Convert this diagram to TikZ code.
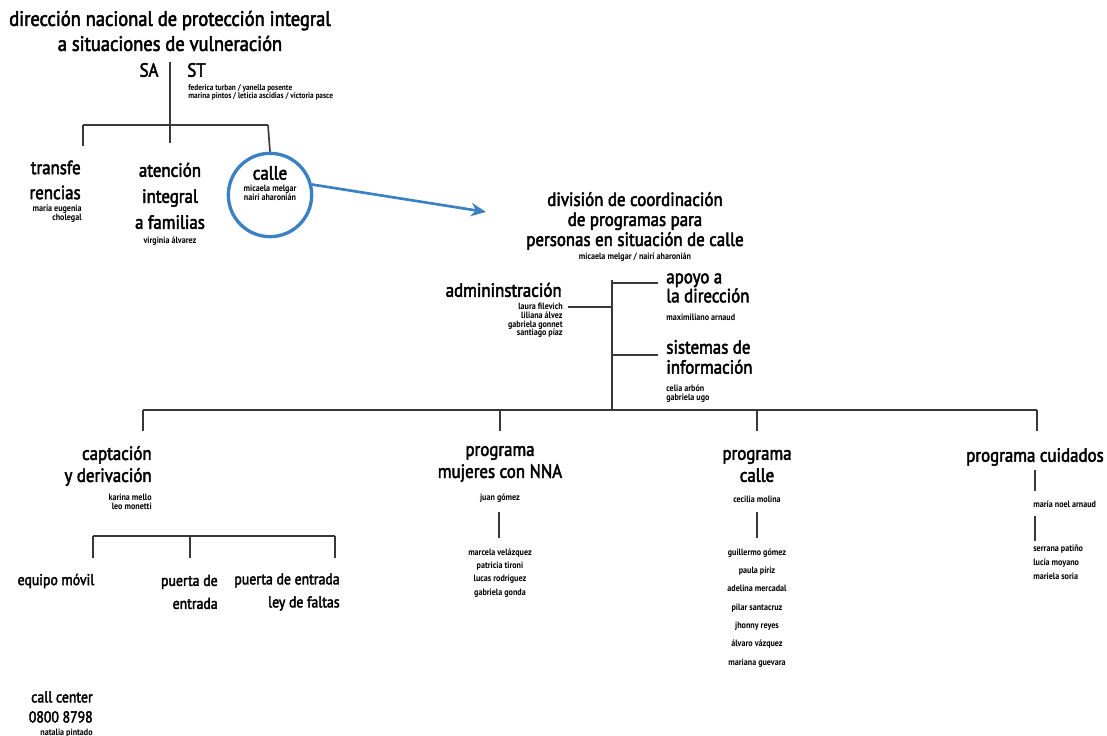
\documentclass[tikz,border=0pt]{standalone}
\usepackage{fontspec}
\setmainfont{PT Sans}
\newfontfamily\semifont{PT Sans}[FakeStretch=0.88,FakeBold=2.5]
\newfontfamily\nomfont{PT Sans Bold}[FakeStretch=0.88]
\usetikzlibrary{positioning,arrows.meta}
\tikzset{>=stealth}
\definecolor{lineas}{gray}{0.22}
\definecolor{azul}{RGB}{60,128,196}
\tikzset{
  titulo/.style={font=\semifont\fontsize{11.5}{15}\selectfont, align=center, inner sep=0pt},
  nombres/.style={font=\nomfont\fontsize{5.5}{5.2}\selectfont, inner sep=0pt},
  linea/.style={line width=1pt, draw=lineas},
}
\begin{document}
\begin{tikzpicture}[x=0.6pt,y=-0.6pt]
\useasboundingbox (0,0) rectangle (1107,736);
% direccion nacional
\node[titulo,font=\semifont\fontsize{12.6}{15}\selectfont] (dir) at (170,31) {dirección nacional de protección integral\\a situaciones de vulneración};
\node[titulo] (sa) at (149,70) {SA};
\node[titulo,anchor=west] (st) at (187,70) {ST};
\node[nombres,anchor=north west,align=left,font=\nomfont\fontsize{5}{4.8}\selectfont] (stn) at (188,84) {federica turban / yanella posente\\marina pintos / leticia ascidias / victoria pasce};
\coordinate (sast) at (170,62);
\coordinate (j0) at (170,125);
\coordinate (j1) at (83,125);
\coordinate (j2) at (268,125);
\draw[linea] (sast) -- (j0);
\draw[linea] (j1) -- (j2);
%%%%%%%%%%%%
\node[titulo,anchor=east,align=right] (transf) at (81,180) {transfe\\rencias};
\node[nombres,anchor=east,align=right] (transfn) at (82,214) {maría eugenia\\cholegal};
\node[titulo,font=\semifont\fontsize{11.5}{15.6}\selectfont] (aif) at (170,196) {atención\\integral\\a familias};
\node[nombres] (aifn) at (170,241) {virginia álvarez};
\node[draw=azul,line width=2pt,circle,minimum size=50pt] (calle) at (270,195) {};
\node[titulo] (callet) at (270,173) {calle};
\node[nombres,align=center] (callen) at (270,193) {micaela melgar\\nairí aharonián};
\draw[linea] (j1) -- ++(0,21);
\draw[linea] (j0) -- ++(0,18);
\draw[linea] (j2) -- (calle.north);
%%%%%%%%%%%%
\node[titulo,font=\semifont\fontsize{11.5}{12}\selectfont] (div) at (635,221) {división de coordinación\\de programas para\\personas en situación de calle};
\node[nombres] (divn) at (635,257) {micaela melgar / nairí aharonián};
\coordinate (flecha) at (486,212);
\draw[azul,line width=1.6pt,-{Stealth[length=9pt,width=8pt]}] (calle.14) -- (flecha);
\node[titulo,anchor=east] (adm) at (562,290) {admininstración};
\node[nombres,anchor=north east,align=right] (admn) at (563,303) {laura filevich\\liliana álvez\\gabriela gonnet\\santiago píaz};
\node[titulo,anchor=west,align=left,font=\semifont\fontsize{11.5}{11.4}\selectfont] (apo) at (666,288) {apoyo a\\la dirección};
\node[nombres,anchor=west] (apon) at (666,317) {maximiliano arnaud};
\node[titulo,anchor=west,align=left,font=\semifont\fontsize{11.5}{12}\selectfont] (sis) at (666,357) {sistemas de\\información};
\node[nombres,anchor=west,align=left] (sisn) at (666,394) {celia arbón\\gabriela ugo};
\coordinate (v0) at (612,280);
\coordinate (v1) at (612,410);
\coordinate (apoj) at (658,283);
\coordinate (sisj) at (658,355);
\coordinate (admj) at (568,307);
\draw[linea] (v0) -- (v1);
\draw[linea] (v0 |- apoj) -- (apoj);
\draw[linea] (v0 |- sisj) -- (sisj);
\draw[linea] (admj) -- (v0 |- admj);
%%%%%%%%%%%%
\coordinate (b1) at (143,410);
\coordinate (b2) at (500,410);
\coordinate (b3) at (757,410);
\coordinate (b4) at (1037,410);
\draw[linea] (b1) -- (b4);
\foreach \b in {b1,b2,b3,b4} \draw[linea] (\b) -- ++(0,21);
%%%%%%%%%%%%
\node[titulo,anchor=east,align=right,font=\semifont\fontsize{11.5}{13.2}\selectfont] (cap) at (152,466) {captación\\y derivación};
\node[nombres,anchor=east,align=right] (capn) at (152,502) {karina mello\\leo monetti};
\coordinate (c1) at (93,536);
\coordinate (c2) at (190,536);
\coordinate (c3) at (335,536);
\draw[linea] (c1) -- (c3);
\foreach \c in {c1,c2,c3} \draw[linea] (\c) -- ++(0,22);
\node[titulo,font=\semifont\fontsize{9.4}{13}\selectfont] (eqm) at (56,581) {equipo móvil};
\node[titulo,anchor=east,align=right,font=\semifont\fontsize{9.4}{13.8}\selectfont] (pde) at (218,592) {puerta de\\entrada};
\node[titulo,anchor=east,align=right,font=\semifont\fontsize{9.4}{13.8}\selectfont] (pdl) at (340,592) {puerta de entrada\\ley de faltas};
\node[titulo,anchor=east,align=right,font=\semifont\fontsize{9.4}{12}\selectfont] (ccn) at (93,707) {call center\\0800 8798};
\node[nombres,anchor=east] (ccnn) at (93,733) {natalia pintado};
%%%%%%%%%%%%
\node[titulo,font=\semifont\fontsize{11.5}{13.2}\selectfont] (mnna) at (500,464) {programa\\mujeres con NNA};
\node[nombres] (mnnan) at (500,498) {juan gómez};
\node[nombres,align=center,font=\nomfont\fontsize{5.5}{8}\selectfont] (mnnal) at (500,573) {marcela velázquez\\patricia tironi\\lucas rodríguez\\gabriela gonda};
\coordinate (m1) at (499,512);
\coordinate (m2) at (499,538);
\draw[linea] (m1) -- (m2);
%%%%%%%%%%%%
\node[titulo,font=\semifont\fontsize{11.5}{13.2}\selectfont] (pc) at (757,466) {programa\\calle};
\node[nombres] (pcn) at (757,499) {cecilia molina};
\node[nombres,align=center,font=\nomfont\fontsize{5.5}{11}\selectfont] (pcl) at (757,608) {guillermo gómez\\paula píriz\\adelina mercadal\\pilar santacruz\\jhonny reyes\\álvaro vázquez\\mariana guevara};
\coordinate (p1) at (757,512);
\coordinate (p2) at (757,538);
\draw[linea] (p1) -- (p2);
%%%%%%%%%%%%
\node[titulo] (cui) at (1035,457) {programa cuidados};
\node[nombres,anchor=west] (cuin) at (1033,504) {maría noel arnaud};
\node[nombres,anchor=west,align=left,font=\nomfont\fontsize{5.5}{8.4}\selectfont] (cuil) at (1033,562) {serrana patiño\\lucía moyano\\mariela soria};
\coordinate (q1) at (1035,470);
\coordinate (q2) at (1035,491);
\coordinate (q3) at (1035,516);
\coordinate (q4) at (1035,541);
\draw[linea] (q1) -- (q2);
\draw[linea] (q3) -- (q4);
\end{tikzpicture}
\end{document}
